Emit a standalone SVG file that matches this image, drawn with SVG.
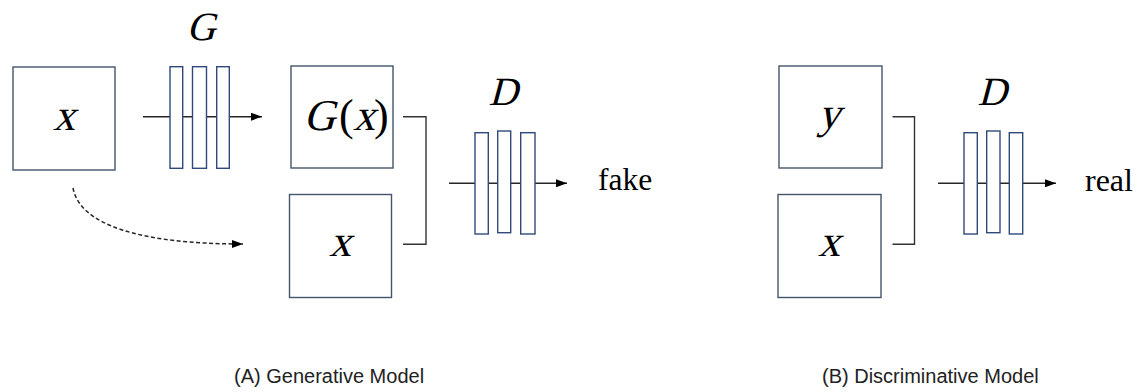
<svg xmlns="http://www.w3.org/2000/svg" width="1141" height="392" viewBox="0 0 1141 392">
<defs>
<style>
.box{fill:#fff;stroke:#44546a;stroke-width:1.4}
.bar{fill:#fff;stroke:#2f4a7a;stroke-width:1.4}
.ln{fill:none;stroke:#262626;stroke-width:1.4}
.br{fill:none;stroke:#333;stroke-width:1.4}
.dash{fill:none;stroke:#262626;stroke-width:1.5;stroke-dasharray:4 2.5}
.math{font-family:"Liberation Serif","Times New Roman",serif;font-style:normal;fill:#000}
.rom{font-family:"Liberation Serif","Times New Roman",serif;fill:#000}
.cap{font-family:"Liberation Sans",Arial,sans-serif;font-size:20px;fill:#222}
</style>
<marker id="ah" markerWidth="11" markerHeight="8" refX="11" refY="4" orient="auto" markerUnits="userSpaceOnUse">
<path d="M0,0 L11,4 L0,8 Z" fill="#000"/>
</marker>
</defs>
<rect width="1141" height="392" fill="#fff"/>

<g id="connectors">
<line class="ln" x1="143" y1="116.7" x2="262" y2="116.7" marker-end="url(#ah)"/>
<line class="ln" x1="449" y1="183.3" x2="567" y2="183.3" marker-end="url(#ah)"/>
<line class="ln" x1="938" y1="183.3" x2="1056" y2="183.3" marker-end="url(#ah)"/>
<path class="br" d="M403,116.7 H426 V244.3 H403"/>
<path class="br" d="M892.5,116.7 H914.5 V244.3 H892.5"/>
<path class="dash" d="M73,188 C80,225 140,244 243,244" marker-end="url(#ah)"/>
</g>

<g id="nodeA-x">
<rect class="box" x="13" y="67" width="102" height="103"/>
<text class="math" transform="translate(64,130) skewX(-15)" font-size="44" text-anchor="middle">x</text>
</g>

<g id="nodeA-G">
<text class="math" transform="translate(201,40) skewX(-15)" font-size="40" text-anchor="middle">G</text>
<rect class="bar" x="170" y="66.7" width="12.7" height="101.6"/>
<rect class="bar" x="192.5" y="66.7" width="14" height="101.6"/>
<rect class="bar" x="216.7" y="66.7" width="12.6" height="101.6"/>
</g>

<g id="nodeA-Gx">
<rect class="box" x="291" y="66" width="102" height="102"/>
<text class="math" transform="translate(303.5,130) skewX(-15)" font-size="44">G</text>
<text class="math" x="339" y="130" font-size="44">(</text>
<text class="math" transform="translate(353,130) skewX(-15)" font-size="44">x</text>
<text class="math" x="374" y="130" font-size="44">)</text>
</g>

<g id="nodeA-x2">
<rect class="box" x="289.5" y="194.5" width="102" height="103"/>
<text class="math" transform="translate(340,256) skewX(-15)" font-size="44" text-anchor="middle">x</text>
</g>

<g id="nodeA-D">
<text class="math" transform="translate(503,105) skewX(-15)" font-size="40" text-anchor="middle">D</text>
<rect class="bar" x="475" y="132.7" width="13.3" height="101.3"/>
<rect class="bar" x="497.7" y="131" width="13" height="101.7"/>
<rect class="bar" x="520.7" y="132.7" width="14.3" height="101.3"/>
</g>

<g id="nodeA-fake">
<text class="rom" x="598" y="190" font-size="31.5">fake</text>
</g>

<g id="nodeB-y">
<rect class="box" x="779" y="66" width="103" height="102"/>
<text class="math" transform="translate(829,128) skewX(-15)" font-size="44" text-anchor="middle">y</text>
</g>

<g id="nodeB-x">
<rect class="box" x="778" y="194.5" width="103" height="103"/>
<text class="math" transform="translate(829,256) skewX(-15)" font-size="44" text-anchor="middle">x</text>
</g>

<g id="nodeB-D">
<text class="math" transform="translate(992,105) skewX(-15)" font-size="40" text-anchor="middle">D</text>
<rect class="bar" x="964" y="132.7" width="13.3" height="101.3"/>
<rect class="bar" x="986.7" y="131" width="13.3" height="101.7"/>
<rect class="bar" x="1009.3" y="132.7" width="13.4" height="101.3"/>
</g>

<g id="nodeB-real">
<text class="rom" x="1085" y="191" font-size="32">real</text>
</g>

<g id="captions">
<text class="cap" x="234" y="383">(A) Generative Model</text>
<text class="cap" x="822" y="383">(B) Discriminative Model</text>
</g>
</svg>
